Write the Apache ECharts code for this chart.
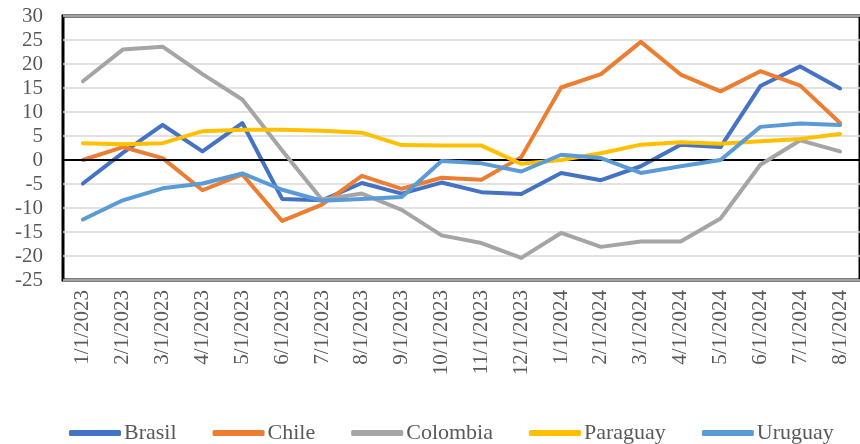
<!DOCTYPE html>
<html>
<head>
<meta charset="utf-8">
<script src="https://cdn.jsdelivr.net/npm/echarts@6/dist/echarts.min.js"></script>
<style>html,body{margin:0;padding:0;background:#fff}#c{width:860px;height:444px}</style>
</head>
<body>
<div id="c"></div>
<script>
var categories = ['1/1/2023','2/1/2023','3/1/2023','4/1/2023','5/1/2023','6/1/2023','7/1/2023','8/1/2023','9/1/2023','10/1/2023','11/1/2023','12/1/2023','1/1/2024','2/1/2024','3/1/2024','4/1/2024','5/1/2024','6/1/2024','7/1/2024','8/1/2024'];
var brasil   = [-4.9, 1.5, 7.3, 1.8, 7.7, -8.1, -8.4, -4.8, -7.0, -4.7, -6.7, -7.1, -2.7, -4.2, -1.3, 3.2, 2.7, 15.4, 19.5, 14.9];
var chile    = [0.0, 2.7, 0.4, -6.3, -3.0, -12.7, -9.3, -3.3, -6.0, -3.7, -4.1, 0.6, 15.1, 17.9, 24.6, 17.8, 14.3, 18.5, 15.5, 7.7];
var colombia = [16.4, 23.0, 23.6, 17.9, 12.6, 2.0, -8.3, -7.0, -10.4, -15.7, -17.3, -20.4, -15.2, -18.1, -17.0, -17.0, -12.2, -1.0, 4.1, 1.8];
var paraguay = [3.5, 3.3, 3.5, 6.0, 6.3, 6.3, 6.1, 5.7, 3.1, 3.0, 3.0, -0.8, 0.0, 1.4, 3.2, 3.7, 3.4, 3.9, 4.4, 5.4];
var uruguay  = [-12.4, -8.4, -5.9, -4.9, -2.8, -6.2, -8.5, -8.1, -7.7, -0.2, -0.7, -2.4, 1.1, 0.4, -2.7, -1.3, 0.0, 6.9, 7.6, 7.3];
var seriesNames = ['Brasil','Chile','Colombia','Paraguay','Uruguay'];
var yTicks = {min: -25, max: 30, interval: 5};

var colors = ['#4472C4','#ED7D31','#A5A5A5','#FFC000','#5B9BD5'];
var dataSets = [brasil, chile, colombia, paraguay, uruguay];
var FONT = 'Liberation Serif';

var series = seriesNames.map(function(n, i){
  return {
    name: n, type: 'line', data: dataSets[i], symbol: 'none',
    lineStyle: {width: 4, color: colors[i], cap: 'round', join: 'round'},
    itemStyle: {color: colors[i]},
    z: 3 + i, animation: false
  };
});
series.unshift({
  name: '_zero', type: 'line', data: [], symbol: 'none', z: 2, silent: true,
  markLine: {silent: true, symbol: 'none', label: {show: false},
    lineStyle: {color: '#000', width: 2, type: 'solid'},
    data: [{yAxis: 0}], animation: false}
});

var chart = echarts.init(document.getElementById('c'), null, {renderer: 'canvas'});
chart.setOption({
  animation: false,
  backgroundColor: '#fff',
  color: colors,
  grid: {left: 63, top: 16, right: -12, bottom: 164, show: true, borderColor: '#000', borderWidth: 3, backgroundColor: 'transparent', containLabel: false},
  legend: {
    data: seriesNames, left: 64, top: 417, itemGap: 36, itemWidth: 52, itemHeight: 6, icon: 'roundRect',
    textStyle: {fontFamily: FONT, fontSize: 22, color: '#595959', padding: [0,0,0,-2]}
  },
  xAxis: {
    type: 'category', data: categories, boundaryGap: true,
    axisLine: {show: false}, axisTick: {show: false},
    splitLine: {show: false},
    axisLabel: {rotate: 90, margin: 10, interval: 0, fontFamily: FONT, fontSize: 21, color: '#595959'}
  },
  yAxis: {
    type: 'value', min: yTicks.min, max: yTicks.max, interval: yTicks.interval,
    axisLine: {show: false}, axisTick: {show: false},
    splitLine: {show: true, lineStyle: {color: '#D9D9D9', width: 1.5}},
    axisLabel: {margin: 20, fontFamily: FONT, fontSize: 21, color: '#595959'}
  },
  series: series
});
</script>
</body>
</html>
